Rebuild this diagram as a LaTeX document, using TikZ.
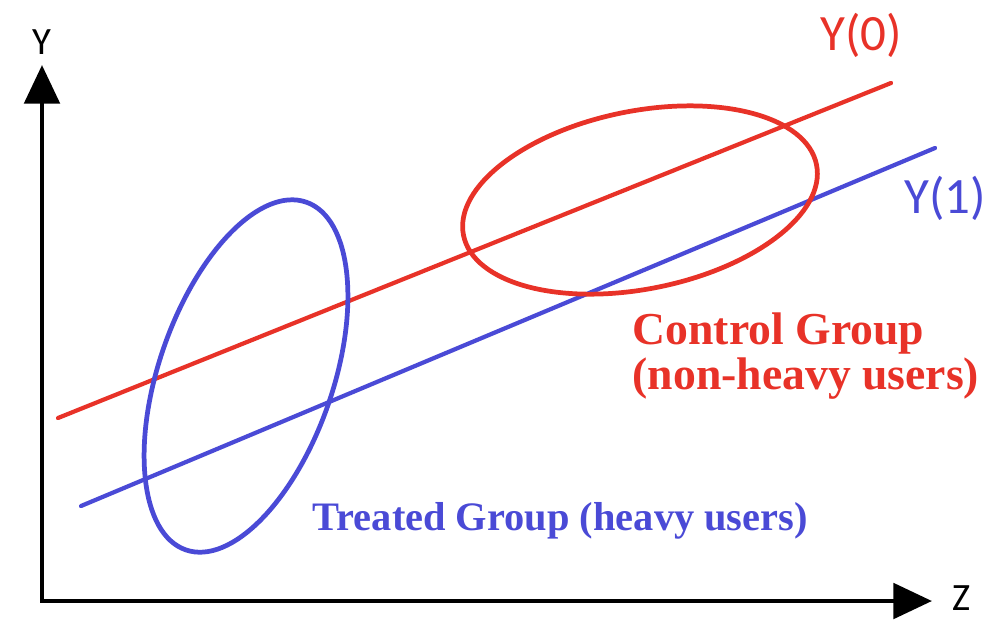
\documentclass[tikz,border=0pt]{standalone}
\usepackage{fontspec}
\setmainfont{Liberation Serif}
\newfontfamily\axisfont{Carlito}
\usetikzlibrary{arrows.meta}
\definecolor{ctrlred}{RGB}{232,50,40}
\definecolor{treatblue}{RGB}{74,74,214}

\begin{document}
\begin{tikzpicture}[line cap=round]
	\useasboundingbox (0,0) rectangle (10,6.2);
	
	%axes
	\coordinate (origin) at (0.42,0.19);
	\coordinate (ytip) at (0.42,5.55);
	\coordinate (ztip) at (9.32,0.19);
	\draw[line width=1.4pt,line cap=butt,line join=miter,{Triangle[length=11pt,width=10pt]}-{Triangle[length=11pt,width=10pt]}] (ytip)--(origin)--(ztip);
	\node (ylab) at (0.42,5.78) {\axisfont\fontsize{11}{13}\selectfont Y};
	\node (zlab) at (9.62,0.22) {\axisfont\fontsize{11}{13}\selectfont Z};
	
	%potential outcome lines
	\coordinate (y0start) at (0.58,2.02);
	\coordinate (y0end) at (8.91,5.37);
	\coordinate (y1start) at (0.81,1.14);
	\coordinate (y1end) at (9.35,4.72);
	\draw[ctrlred,line width=1.2pt] (y0start)--(y0end);
	\draw[treatblue,line width=1.2pt] (y1start)--(y1end);
	\node[text=ctrlred] (y0lab) at (8.61,5.85) {\axisfont\fontsize{14.5}{17}\selectfont Y(0)};
	\node[text=treatblue] (y1lab) at (9.45,4.22) {\axisfont\fontsize{14.5}{17}\selectfont Y(1)};
	
	%groups
	\draw[treatblue,line width=1.35pt,rotate around={70.9:(2.46,2.44)}] (2.46,2.44) ellipse (1.84 and 0.87);
	\draw[ctrlred,line width=1.35pt,rotate around={11.3:(6.40,4.20)}] (6.40,4.20) ellipse (1.80 and 0.89);
	
	%labels
	\node[text=ctrlred,anchor=north west,inner sep=0pt,align=left,font=\fontsize{13}{11}\selectfont\bfseries] (ctrllab) at (6.32,3.08) {Control Group\\(non-heavy users)};
	\node[text=treatblue,anchor=base west,inner sep=0pt,font=\fontsize{11.5}{13}\selectfont\bfseries] (treatlab) at (3.12,0.90) {Treated Group (heavy users)};
\end{tikzpicture}
\end{document}
